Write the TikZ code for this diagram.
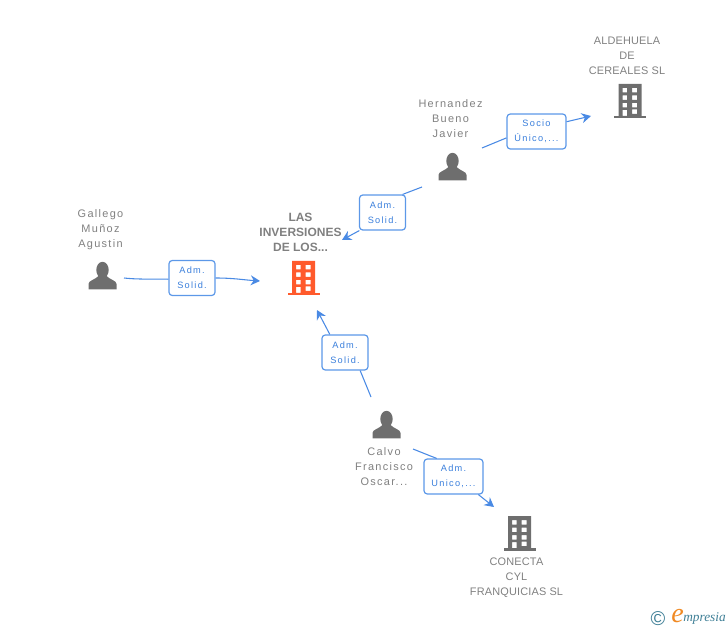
\documentclass[tikz,border=0pt]{standalone}
\usepackage{fontspec}
\setmainfont{Liberation Sans}
\newfontfamily\spacedfont[LetterSpace=12]{Liberation Sans}
\newfontfamily\capsfont[LetterSpace=1.5]{Liberation Sans}
\newfontfamily\labelfont[LetterSpace=14]{Liberation Sans}
\newfontfamily\logofont{Liberation Serif}
\usetikzlibrary{arrows.meta}
\definecolor{txtgray}{HTML}{808080}
\definecolor{icongray}{HTML}{6E6E6E}
\definecolor{linkblue}{HTML}{4A8AE4}
\definecolor{boxblue}{HTML}{5C98E8}
\definecolor{labblue}{HTML}{3A7FDC}
\definecolor{mainorange}{HTML}{FF5A2C}
\definecolor{logoteal}{HTML}{3F7F96}
\definecolor{logoorange}{HTML}{F08A24}
\tikzset{
  x=0.75pt,y=-0.75pt,
  name text/.style={text=txtgray,align=center,inner sep=0pt,font=\spacedfont\fontsize{8.2}{11.25}\selectfont},
  caps text/.style={text=txtgray,align=center,inner sep=0pt,font=\capsfont\fontsize{8.2}{11.25}\selectfont},
  main text/.style={text=txtgray,align=center,inner sep=0pt,font=\bfseries\fontsize{9}{11.25}\selectfont},
  rel label/.style={draw=boxblue,line width=0.9pt,fill=white,rounded corners=2.4pt,text=labblue,align=center,inner sep=0pt,
    minimum height=26.2pt,font=\labelfont\fontsize{6.9}{11.25}\selectfont},
  narrow/.style={minimum width=34.5pt},
  wide/.style={minimum width=44.2pt},
  link/.style={draw=linkblue,line width=0.8pt},
  linkarrow/.style={link,-{Stealth[length=7pt,width=7.5pt]}},
  pics/person/.style={code={
    \fill[icongray] (0,-6) ellipse (6.2 and 8.2);
    \fill[icongray] (-14,13.5) -- (-14,8) .. controls (-14,4.5) and (-8,4) .. (-4,0) -- (4,0)
       .. controls (8,4) and (14,4.5) .. (14,8) -- (14,13.5) -- cycle;
  }},
  pics/building/.style={code={
    \fill[#1,even odd rule] (-11.5,0) rectangle (11.5,32)
      (-7.5,4) rectangle (-3,8.5) (2,4) rectangle (7,8.5)
      (-7.5,11.5) rectangle (-3,16) (2,11.5) rectangle (7,16)
      (-7.5,19) rectangle (-3,23.5) (2,19) rectangle (7,23.5)
      (-7.5,26) rectangle (-3,32) (2,25.5) rectangle (7,30);
    \fill[#1] (-16,32) rectangle (16,34.5);
  }},
}
\begin{document}
\begin{tikzpicture}
\useasboundingbox (0,0) rectangle (728,630);
% icons
\pic at (303.5,261) {building=mainorange};
\pic at (630,84) {building=icongray};
\pic at (519.5,516) {building=icongray};
\pic at (102.5,276) {person};
\pic at (452.5,167) {person};
\pic at (386.5,425) {person};
% entity texts
\node[main text] (main) at (300.5,232) {LAS\\INVERSIONES\\DE LOS...};
\node[name text] (gallego) at (100.5,229.5) {Gallego\\Muñoz\\Agustin};
\node[name text] (hernandez) at (450.5,119) {Hernandez\\Bueno\\Javier};
\node[caps text] (aldehuela) at (627,55.5) {ALDEHUELA\\DE\\CEREALES SL};
\node[name text] (calvo) at (384,467) {Calvo\\Francisco\\Oscar...};
\node[caps text] (conecta) at (516.5,578) {CONECTA\\CYL\\FRANQUICIAS SL};
% relation labels
\node[rel label,narrow] (l1) at (192,278) {Adm.\\Solid.};
\node[rel label,narrow] (l2) at (382.5,212.5) {Adm.\\Solid.};
\node[rel label,wide] (l3) at (536.5,131.5) {Socio\\Único,...};
\node[rel label,narrow] (l4) at (345,352.5) {Adm.\\Solid.};
\node[rel label,wide] (l5) at (453.5,476.5) {Adm.\\Unico,...};
% free ends
\coordinate (g0) at (124,278);
\coordinate (lasw) at (260,281);
\coordinate (h0) at (422,187);
\coordinate (lasne) at (342,240);
\coordinate (h1) at (482,148);
\coordinate (aldw) at (591,116);
\coordinate (c0) at (371,397);
\coordinate (lass) at (317,310);
\coordinate (c1) at (413,449);
\coordinate (conn) at (494,507);
% connectors
\draw[link] (g0) to[out=-6,in=178] (l1.183);
\draw[linkarrow] (l1.east) to[out=0,in=176] (lasw);
\draw[link] (h0) -- (l2.42);
\draw[linkarrow] (l2.-142) -- (lasne);
\draw[link] (h1) -- (l3.192);
\draw[linkarrow] (l3.18) -- (aldw);
\draw[link] (c0) -- (l4.-50);
\draw[linkarrow] (l4.130) -- (lass);
\draw[link] (c1) -- (l5.133);
\draw[linkarrow] (l5.-36) -- (conn);
% logo
\node[inner sep=0pt,text=logoteal,font=\fontsize{15}{15}\selectfont] (logoc) at (658,619) {©};
\node[inner sep=0pt,text=logoorange,font=\logofont\itshape\fontsize{21}{21}\selectfont] (logoe) at (677.5,616) {e};
\node[inner sep=0pt,text=logoteal,anchor=west,font=\logofont\itshape\fontsize{10}{10}\selectfont] (logot) at (683,619) {mpresia};
\end{tikzpicture}
\end{document}
